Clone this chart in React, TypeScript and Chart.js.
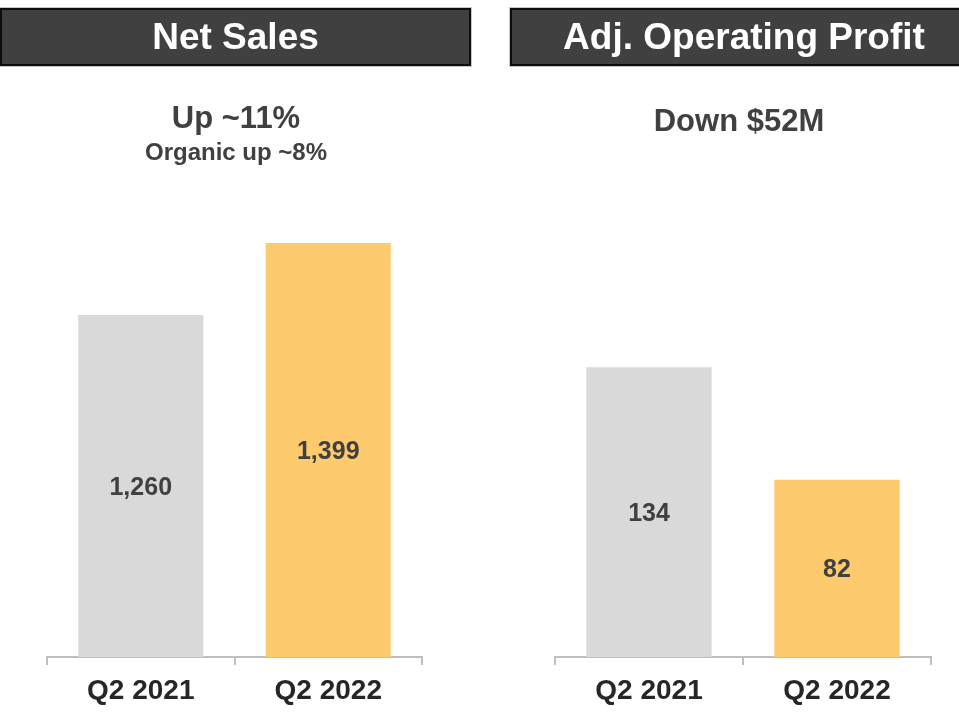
import React, { useEffect, useRef } from "react";
import { Chart, registerables } from "chart.js";

Chart.register(...registerables);

const categories = ["Q2 2021", "Q2 2022"];
const netSales = [1260, 1399];
const adjOperatingProfit = [134, 82];
const barColors = ["#d9d9d9", "#fdca6e"];
const panelTitles = ["Net Sales", "Adj. Operating Profit"];
const netSalesSubtitle = "Up ~11%";
const netSalesSubtitle2 = "Organic up ~8%";
const profitSubtitle = "Down $52M";

const FONT = "'Liberation Sans', Arial, Helvetica, sans-serif";

const valueLabelPlugin = {
  id: "valueLabels",
  afterDatasetsDraw(chart: any) {
    const ctx = chart.ctx;
    const meta = chart.getDatasetMeta(0);
    const data = chart.data.datasets[0].data;
    const bottom = chart.chartArea.bottom;
    ctx.save();
    ctx.font = `bold 25px ${FONT}`;
    ctx.fillStyle = "#404040";
    ctx.textAlign = "center";
    ctx.textBaseline = "middle";
    meta.data.forEach((bar: any, i: number) => {
      const v = data[i] as number;
      const base = Math.min(bar.base, bottom);
      const y = (bar.y + base) / 2 + 2;
      ctx.fillText(v.toLocaleString("en-US"), bar.x, y);
    });
    ctx.restore();
  },
};

function BarPanel(props: {
  values: number[];
  min: number;
  max: number;
  padding: { left: number; right: number; top: number };
  left: number;
  width: number;
}) {
  const ref = useRef<HTMLCanvasElement>(null);
  useEffect(() => {
    if (!ref.current) return;
    const chart = new Chart(ref.current, {
      type: "bar",
      data: {
        labels: categories,
        datasets: [
          {
            data: props.values,
            backgroundColor: barColors,
            borderWidth: 0,
            barPercentage: 0.667,
            categoryPercentage: 1,
          },
        ],
      },
      options: {
        animation: false,
        responsive: false,
        maintainAspectRatio: false,
        layout: {
          padding: { left: props.padding.left, right: props.padding.right, top: props.padding.top, bottom: 0 },
        },
        plugins: {
          legend: { display: false },
          tooltip: { enabled: false },
          title: { display: false },
        },
        scales: {
          y: { display: false, min: props.min, max: props.max },
          x: {
            afterFit: (scale: any) => {
              scale.height = 68;
            },
            border: { display: true, color: "#bfbfbf", width: 2 },
            grid: {
              display: true,
              offset: true,
              drawOnChartArea: false,
              drawTicks: true,
              tickLength: 8,
              color: "#bfbfbf",
              lineWidth: 2,
            },
            ticks: {
              padding: 9,
              color: "#262626",
              font: { family: FONT, size: 28, weight: "bold" },
              maxRotation: 0,
            },
          },
        },
      },
      plugins: [valueLabelPlugin],
    } as any);
    return () => chart.destroy();
  }, []);
  return (
    <canvas
      ref={ref}
      width={props.width}
      height={725}
      style={{ position: "absolute", left: props.left, top: 0, width: props.width, height: 725 }}
    />
  );
}

const headerStyle: React.CSSProperties = {
  position: "absolute",
  top: 8,
  height: 58,
  boxSizing: "border-box",
  border: "2px solid #0d0d0d",
  boxShadow: "0 0 0 1px #c8c8c8",
  background: "#404040",
  color: "#ffffff",
  fontFamily: FONT,
  fontWeight: "bold",
  fontSize: 37,
  display: "flex",
  alignItems: "center",
  justifyContent: "center",
  whiteSpace: "nowrap",
};

const subStyle = (size: number): React.CSSProperties => ({
  position: "absolute",
  fontFamily: FONT,
  fontWeight: "bold",
  fontSize: size,
  lineHeight: `${size}px`,
  color: "#404040",
  textAlign: "center",
  whiteSpace: "nowrap",
});

export default function App() {
  return (
    <div
      style={{
        position: "fixed",
        left: 0,
        top: 0,
        width: 959,
        height: 725,
        background: "#ffffff",
        overflow: "hidden",
      }}
    >
      <BarPanel values={netSales} min={600} max={1500} padding={{ left: 47, right: 48, top: 190.6 }} left={0} width={470} />
      <BarPanel
        values={adjOperatingProfit}
        min={0}
        max={200}
        padding={{ left: 75, right: 28, top: 224.6 }}
        left={480}
        width={479}
      />
      <div style={{ ...headerStyle, left: 0, width: 471 }}>{panelTitles[0]}</div>
      <div style={{ ...headerStyle, left: 510, width: 468 }}>{panelTitles[1]}</div>
      <div style={{ ...subStyle(31), left: 36, width: 400, top: 102 }}>{netSalesSubtitle}</div>
      <div style={{ ...subStyle(24), left: 36, width: 400, top: 140 }}>{netSalesSubtitle2}</div>
      <div style={{ ...subStyle(31), left: 539, width: 400, top: 105 }}>{profitSubtitle}</div>
    </div>
  );
}
